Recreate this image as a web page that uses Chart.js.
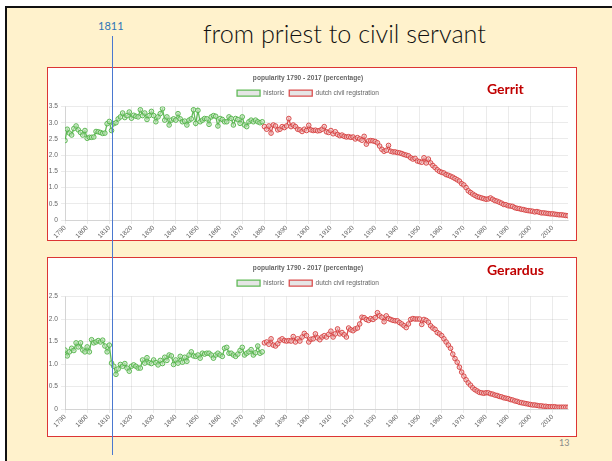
<!DOCTYPE html>
<html>
<head>
<meta charset="utf-8">
<script src="https://cdn.jsdelivr.net/npm/chart.js@4.4.0/dist/chart.umd.min.js"></script>
<style>
body { margin:0; background:#fff; width:612px; height:461px; overflow:hidden; position:relative; font-family: Lato, "Liberation Sans", sans-serif; }
#slide { position:absolute; left:5px; top:6px; width:640px; height:470px; background:#fff2cc; border-left:2px solid #111; border-top:2px solid #111; }
.box { position:absolute; left:47px; width:528px; background:#fff; border:1px solid #dc3535; }
.box canvas { display:block; }
#titre { position:absolute; left:203px; top:18px; font-size:25.2px; font-weight:300; color:#111; white-space:nowrap; }
#annee { position:absolute; left:98px; top:19px; font-size:11px; color:#2e75b6; }
#ligne { position:absolute; left:112px; top:36px; width:1px; height:419px; background:#4a78d0; z-index:5; }
.nom { position:absolute; left:487px; font-size:14px; font-weight:bold; color:#c00000; }
#page { position:absolute; left:559px; top:437px; font-size:9px; color:#8a8a8a; }
</style>
</head>
<body>
<div id="slide"></div>
<div id="titre">from priest to civil servant</div>
<div id="annee">1811</div>
<div class="box" style="top:67px;height:172px;"><canvas id="graphGerrit" width="528" height="172"></canvas></div>
<div class="box" style="top:257px;height:178px;"><canvas id="graphGerardus" width="528" height="178"></canvas></div>
<div class="nom" style="top:80px;">Gerrit</div>
<div class="nom" style="top:261px;">Gerardus</div>
<div id="ligne"></div>
<div id="page">13</div>
<script>
var firstYear = 1790;
var civilYear = 1880;
var lastYear = 2017;

// Gerrit, historic 1790-1879
var gerritHistoric = [
    2.45, 2.80, 2.68, 2.62, 2.82, 2.90, 2.78, 2.70, 2.62, 2.76,
    2.52, 2.55, 2.55, 2.56, 2.73, 2.72, 2.70, 2.67, 2.68, 2.97,
    3.04, 2.76, 2.97, 3.00, 3.12, 3.18, 3.30, 3.16, 3.22, 3.33,
    3.14, 3.23, 3.20, 3.18, 3.40, 3.22, 3.30, 3.10, 3.22, 3.35,
    3.22, 3.03, 3.18, 3.28, 3.43, 3.08, 3.18, 2.93, 3.08, 3.12,
    3.08, 3.28, 3.12, 3.03, 3.05, 2.93, 3.08, 3.12, 3.40, 2.98,
    3.38, 3.03, 3.08, 3.13, 3.12, 2.95, 3.18, 3.22, 3.20, 2.90,
    3.13, 3.10, 3.03, 3.03, 3.18, 3.13, 2.93, 3.13, 3.10, 2.98,
    3.18, 2.93, 2.88, 3.03, 3.08, 3.03, 3.08, 3.03, 3.00, 3.03
];
// Gerrit, dutch civil registration 1880-2017
var gerritCivil = [
    2.88, 2.80, 2.90, 2.68, 2.93, 2.90, 2.78, 2.80, 2.88, 2.85,
    2.90, 3.13, 2.88, 2.93, 2.88, 2.80, 2.78, 2.73, 2.80, 2.76,
    2.92, 2.78, 2.76, 2.77, 2.75, 2.76, 2.80, 2.88, 2.72, 2.70,
    2.76, 2.66, 2.72, 2.64, 2.60, 2.62, 2.58, 2.56, 2.57, 2.55,
    2.56, 2.50, 2.54, 2.50, 2.46, 2.58, 2.34, 2.44, 2.45, 2.44,
    2.42, 2.38, 2.28, 2.18, 2.12, 2.15, 2.30, 2.12, 2.10, 2.10,
    2.08, 2.07, 2.05, 2.02, 2.00, 1.98, 1.92, 1.88, 1.90, 1.82,
    1.80, 1.78, 1.92, 1.76, 1.88, 1.76, 1.68, 1.62, 1.55, 1.50,
    1.47, 1.45, 1.40, 1.38, 1.35, 1.32, 1.28, 1.24, 1.20, 1.12,
    1.08, 1.00, 0.90, 0.85, 0.80, 0.76, 0.72, 0.70, 0.68, 0.66,
    0.64, 0.65, 0.68, 0.64, 0.60, 0.58, 0.55, 0.52, 0.48, 0.47,
    0.44, 0.43, 0.42, 0.38, 0.36, 0.35, 0.33, 0.32, 0.30, 0.29,
    0.28, 0.27, 0.25, 0.26, 0.24, 0.22, 0.22, 0.21, 0.20, 0.19,
    0.19, 0.18, 0.17, 0.16, 0.16, 0.15, 0.14, 0.13
];
// Gerardus, historic 1790-1879
var gerardusHistoric = [
    1.31, 1.18, 1.27, 1.35, 1.30, 1.47, 1.38, 1.47, 1.31, 1.27,
    1.38, 1.27, 1.54, 1.47, 1.49, 1.52, 1.49, 1.53, 1.40, 1.27,
    1.42, 1.02, 0.95, 0.77, 0.89, 0.99, 0.95, 1.01, 0.91, 0.84,
    0.95, 0.98, 0.95, 0.91, 0.91, 1.09, 1.02, 1.14, 1.03, 1.01,
    1.09, 1.03, 0.98, 1.08, 1.01, 1.15, 1.08, 1.20, 1.18, 0.99,
    1.09, 1.02, 1.17, 1.04, 1.15, 1.06, 1.20, 1.27, 1.18, 1.17,
    1.20, 1.13, 1.24, 1.22, 1.24, 1.24, 1.20, 1.13, 1.20, 1.24,
    1.20, 1.17, 1.35, 1.37, 1.24, 1.24, 1.20, 1.17, 1.22, 1.30,
    1.37, 1.20, 1.24, 1.27, 1.32, 1.20, 1.25, 1.40, 1.24, 1.27
];
// Gerardus, dutch civil registration 1880-2017
var gerardusCivil = [
    1.47, 1.49, 1.44, 1.56, 1.42, 1.40, 1.45, 1.53, 1.56, 1.52,
    1.51, 1.52, 1.51, 1.61, 1.49, 1.56, 1.51, 1.60, 1.68, 1.63,
    1.49, 1.55, 1.56, 1.67, 1.58, 1.54, 1.60, 1.63, 1.60, 1.66,
    1.73, 1.60, 1.67, 1.78, 1.67, 1.70, 1.65, 1.60, 1.80, 1.76,
    1.74, 1.78, 1.80, 1.89, 2.04, 2.03, 1.99, 1.97, 2.01, 1.99,
    2.03, 2.14, 2.07, 2.04, 1.94, 2.07, 2.01, 1.99, 1.97, 1.96,
    1.96, 1.92, 1.89, 1.85, 1.81, 1.89, 1.99, 2.01, 2.00, 2.00,
    2.00, 1.88, 1.99, 1.97, 1.93, 1.85, 1.80, 1.77, 1.70, 1.67,
    1.63, 1.56, 1.49, 1.42, 1.35, 1.22, 1.12, 1.04, 0.93, 0.82,
    0.73, 0.65, 0.58, 0.53, 0.47, 0.43, 0.40, 0.37, 0.36, 0.35,
    0.36, 0.36, 0.34, 0.33, 0.31, 0.30, 0.28, 0.27, 0.25, 0.24,
    0.23, 0.21, 0.20, 0.18, 0.17, 0.15, 0.14, 0.13, 0.12, 0.11,
    0.10, 0.09, 0.09, 0.08, 0.07, 0.07, 0.06, 0.06, 0.05, 0.05,
    0.05, 0.05, 0.04, 0.04, 0.04, 0.04, 0.04, 0.04
];

Chart.defaults.font.family = "'Liberation Sans', Arial, sans-serif";
Chart.defaults.color = '#666';

function afficherGraph(canvasId, historic, civil, maxY, bottomPad) {
    var ctx = document.getElementById(canvasId);
    var pointsHistoric = historic.map(function (v, i) { return {x: firstYear + i, y: v}; });
    var pointsCivil = civil.map(function (v, i) { return {x: civilYear + i, y: v}; });

    new Chart(ctx, {
        type: 'line',
        data: {
            datasets: [{
                label: 'historic',
                data: pointsHistoric,
                fill: false,
                tension: 0,
                borderColor: 'rgba(80,178,70,0.9)',
                backgroundColor: 'rgba(0,0,0,0.1)',
                borderWidth: 1.3,
                pointRadius: 2.3,
                pointBorderWidth: 1,
                pointBorderColor: 'rgba(80,178,70,0.9)',
                pointBackgroundColor: 'rgba(200,230,195,0.6)'
            }, {
                label: 'dutch civil registration',
                data: pointsCivil,
                fill: false,
                tension: 0,
                borderColor: 'rgba(214,60,60,0.9)',
                backgroundColor: 'rgba(0,0,0,0.1)',
                borderWidth: 1.3,
                pointRadius: 2.3,
                pointBorderWidth: 1,
                pointBorderColor: 'rgba(214,60,60,0.9)',
                pointBackgroundColor: 'rgba(240,200,200,0.6)'
            }]
        },
        options: {
            responsive: false,
            animation: false,
            layout: { padding: { left: 0, right: 8, top: 0, bottom: bottomPad } },
            plugins: {
                title: {
                    display: true,
                    text: 'popularity 1790 - 2017 (percentage)',
                    color: '#666',
                    font: { size: 6.6, weight: 'bold' },
                    padding: { top: 6, bottom: 3 }
                },
                legend: {
                    labels: { boxWidth: 23, boxHeight: 6, padding: 5, font: { size: 6.6 }, color: '#666' }
                },
                tooltip: { enabled: false }
            },
            scales: {
                x: {
                    type: 'linear',
                    min: firstYear,
                    max: lastYear,
                    bounds: 'data',
                    afterBuildTicks: function (axis) {
                        axis.ticks = axis.ticks.filter(function (t) { return t.value % 10 === 0; });
                    },
                    afterFit: function (axis) { axis.height = 20; },
                    grid: { color: 'rgba(0,0,0,0.08)', tickLength: 4 },
                    ticks: {
                        stepSize: 10, autoSkip: false, minRotation: 45, maxRotation: 45,
                        padding: 0, font: { size: 6.6 },
                        callback: function (v) { return String(v); }
                    }
                },
                y: {
                    min: 0,
                    max: maxY,
                    afterFit: function (axis) { axis.width = 17; },
                    grid: { color: 'rgba(0,0,0,0.08)', tickLength: 4 },
                    ticks: {
                        stepSize: 0.5, padding: 3, font: { size: 6.6 },
                        callback: function (v) { return v === 0 ? '0' : v.toFixed(1); }
                    }
                }
            }
        }
    });
}

afficherGraph('graphGerrit', gerritHistoric, gerritCivil, 3.5, 0);
afficherGraph('graphGerardus', gerardusHistoric, gerardusCivil, 2.5, 7);
</script>
</body>
</html>
